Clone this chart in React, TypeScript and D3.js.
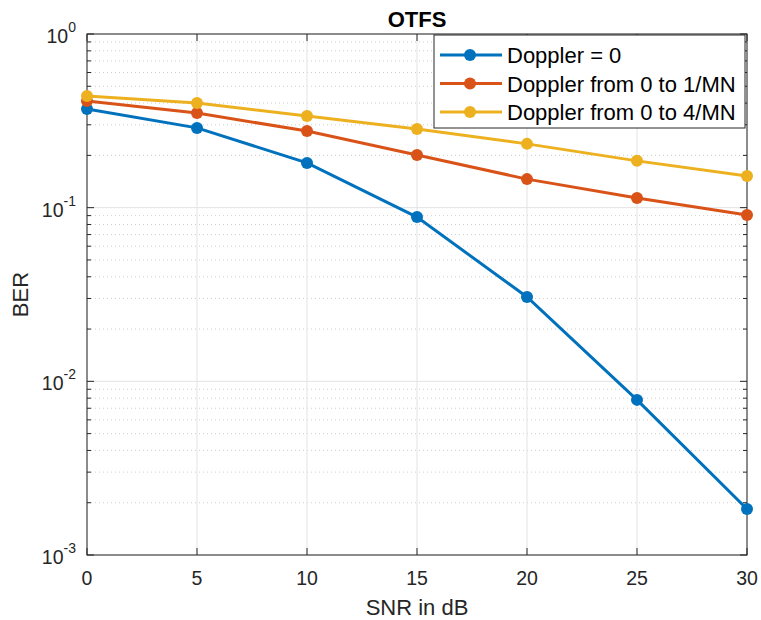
import React from "react";
import * as d3 from "d3";

const snr = [0, 5, 10, 15, 20, 25, 30];
const berDoppler0 = [0.37, 0.288, 0.181, 0.0883, 0.0306, 0.00782, 0.00184];
const berDoppler1 = [0.411, 0.351, 0.276, 0.201, 0.146, 0.1137, 0.0908];
const berDoppler4 = [0.44, 0.401, 0.337, 0.284, 0.233, 0.186, 0.152];
const seriesNames = ["Doppler = 0", "Doppler from 0 to 1/MN", "Doppler from 0 to 4/MN"];
const seriesColors = ["#0072BD", "#D95319", "#EDB120"];
const xTicks = [0, 5, 10, 15, 20, 25, 30];
const yDecades = [-3, -2, -1, 0];

export default function App() {
  const W = 761, H = 620;
  const L = 87, R = 747, T = 34, B = 555;
  const x = d3.scaleLinear().domain([0, 30]).range([L, R]);
  const y = d3.scaleLog().domain([1e-3, 1]).range([B, T]);
  const series = [berDoppler0, berDoppler1, berDoppler4];
  const line = d3.line<number>().x((_, i) => x(snr[i])).y((v) => y(v));
  const minor: number[] = [];
  for (const d of [-3, -2, -1]) for (let k = 2; k <= 9; k++) minor.push(k * Math.pow(10, d));
  const font = "'Liberation Sans', Arial, Helvetica, sans-serif";
  const legX = 434, legY = 35, legW = 311, legH = 93;
  return (
    <svg width={W} height={H} style={{ position: "absolute", left: 0, top: 0 }} fontFamily={font}>
      <rect x={0} y={0} width={W} height={H} fill="#fff" />
      {minor.map((v, i) => (
        <line key={"mg" + i} x1={L} x2={R} y1={y(v)} y2={y(v)} stroke="#cfcfcf" strokeWidth={1} strokeDasharray="1,3" />
      ))}
      {xTicks.map((t) => (
        <line key={"gx" + t} x1={x(t)} x2={x(t)} y1={T} y2={B} stroke="#e3e3e3" strokeWidth={1} />
      ))}
      {yDecades.map((d) => (
        <line key={"gy" + d} x1={L} x2={R} y1={y(Math.pow(10, d))} y2={y(Math.pow(10, d))} stroke="#e3e3e3" strokeWidth={1} />
      ))}
      <rect x={L} y={T} width={R - L} height={B - T} fill="none" stroke="#262626" strokeWidth={1} />
      {xTicks.map((t) => (
        <g key={"tx" + t}>
          <line x1={x(t)} x2={x(t)} y1={B} y2={B - 7} stroke="#262626" />
          <line x1={x(t)} x2={x(t)} y1={T} y2={T + 7} stroke="#262626" />
          <text x={x(t)} y={B + 30} textAnchor="middle" fontSize={19.5} fill="#262626">{t}</text>
        </g>
      ))}
      {yDecades.map((d) => (
        <g key={"ty" + d}>
          <line x1={L} x2={L + 7} y1={y(Math.pow(10, d))} y2={y(Math.pow(10, d))} stroke="#262626" />
          <line x1={R} x2={R - 7} y1={y(Math.pow(10, d))} y2={y(Math.pow(10, d))} stroke="#262626" />
          <text x={L - 11} y={y(Math.pow(10, d)) + 9} textAnchor="end" fontSize={19.5} fill="#262626">
            10<tspan dy={-11} fontSize={14}>{d}</tspan>
          </text>
        </g>
      ))}
      {minor.map((v, i) => (
        <g key={"mt" + i}>
          <line x1={L} x2={L + 4} y1={y(v)} y2={y(v)} stroke="#262626" />
          <line x1={R} x2={R - 4} y1={y(v)} y2={y(v)} stroke="#262626" />
        </g>
      ))}
      {series.map((s, si) => (
        <g key={"s" + si}>
          <path d={line(s) || ""} fill="none" stroke={seriesColors[si]} strokeWidth={3} />
          {s.map((v, i) => (
            <circle key={i} cx={x(snr[i])} cy={y(v)} r={6} fill={seriesColors[si]} />
          ))}
        </g>
      ))}
      <rect x={legX} y={legY} width={legW} height={legH} fill="#fff" stroke="#262626" strokeWidth={1} />
      {seriesNames.map((n, i) => {
        const cy = legY + 20 + i * 28.5;
        return (
          <g key={"l" + i}>
            <line x1={legX + 6} x2={legX + 68} y1={cy} y2={cy} stroke={seriesColors[i]} strokeWidth={3} />
            <circle cx={legX + 36} cy={cy} r={6} fill={seriesColors[i]} />
            <text x={legX + 73} y={cy + 8} fontSize={22} fill="#000">{n}</text>
          </g>
        );
      })}
      <text x={(L + R) / 2} y={27} textAnchor="middle" fontSize={22} fontWeight="bold" fill="#000">OTFS</text>
      <text x={(L + R) / 2} y={615} textAnchor="middle" fontSize={22} fill="#262626">SNR in dB</text>
      <text transform={`translate(28, ${(T + B) / 2}) rotate(-90)`} textAnchor="middle" fontSize={22} fill="#262626">BER</text>
    </svg>
  );
}
